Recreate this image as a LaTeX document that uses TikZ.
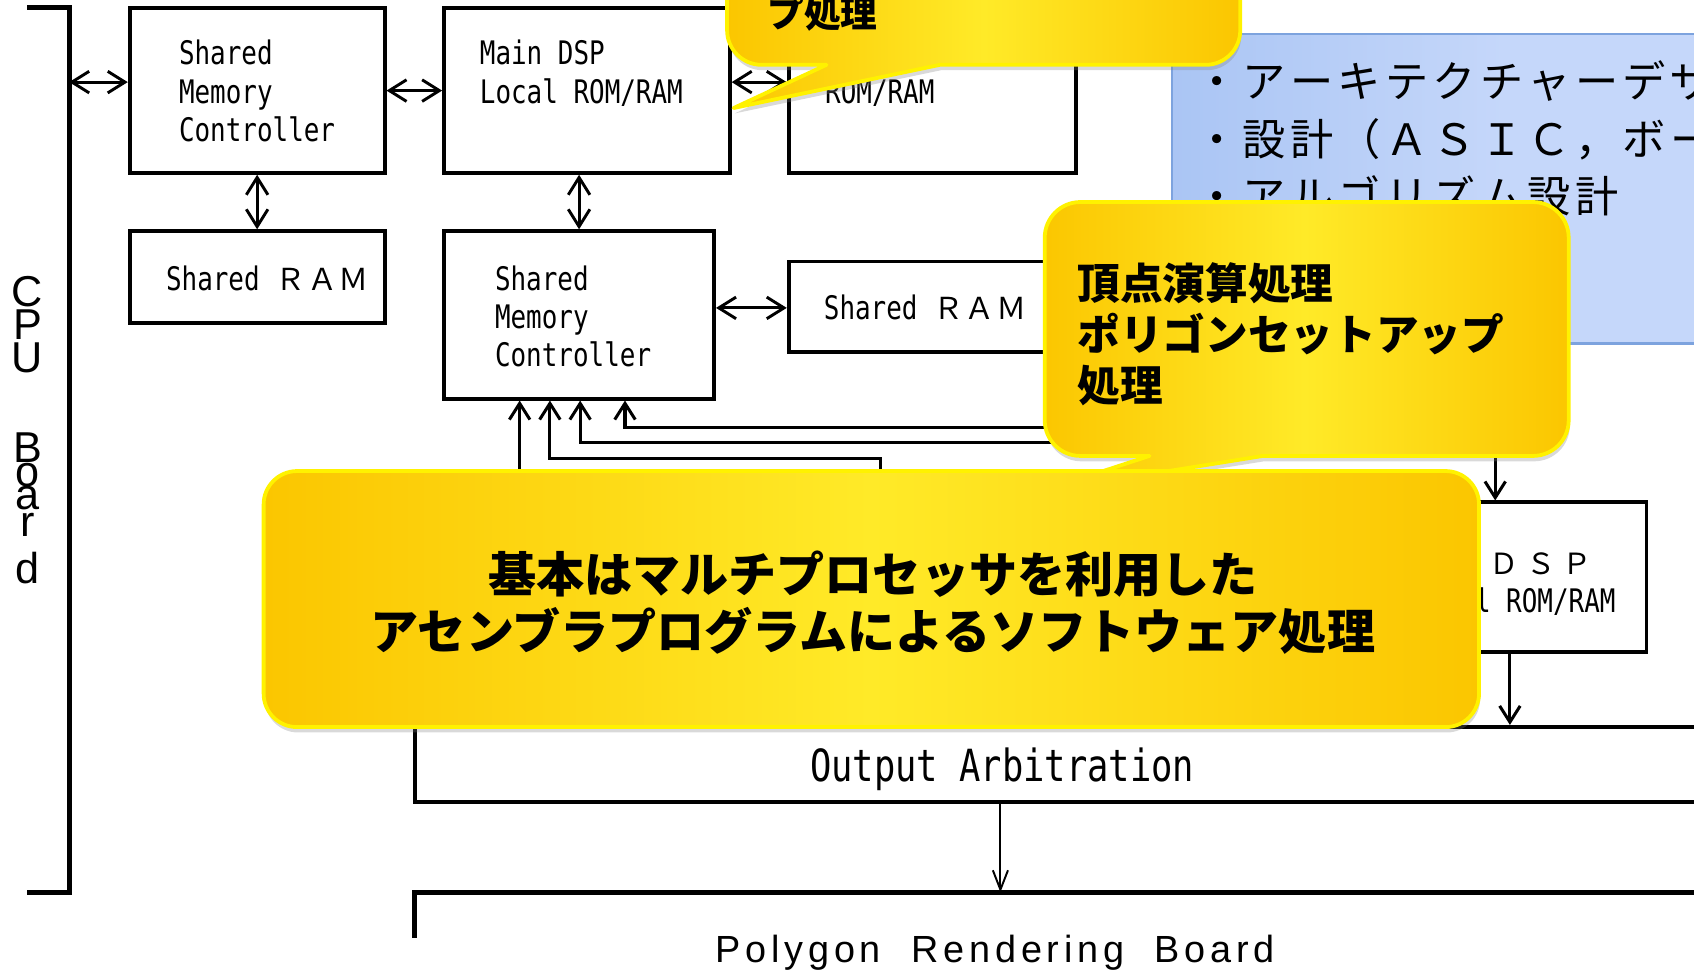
\documentclass[tikz,border=0pt]{standalone}
\usepackage{fontspec}
\usetikzlibrary{arrows.meta,shadows,calc}
\newfontfamily\boxfont[FakeStretch=0.8]{DejaVu Sans Mono}
\newfontfamily\jpfont{Noto Sans CJK JP}
\newfontfamily\latinsans{Liberation Sans}
\newfontfamily\polyfont{Liberation Sans}
\definecolor{cyOuter}{RGB}{251,198,0}
\definecolor{cyInner}{RGB}{255,234,40}
\definecolor{cyBorder}{RGB}{255,242,0}
\definecolor{bluefillA}{RGB}{170,197,244}
\definecolor{bluefillB}{RGB}{197,215,250}
\definecolor{blueBorder}{RGB}{125,163,222}
\def\spcloop#1{\ifx#1\relax\else\makebox[\cpitch][c]{#1}\expandafter\spcloop\fi}
\newcommand\spaced[2]{\def\cpitch{#1}\spcloop#2\relax}
\def\lsploop#1{\ifx#1\relax\else#1\kern4.4pt\expandafter\lsploop\fi}
\newcommand\lsp[1]{\lsploop#1\relax}
\newcommand\ctrline[1]{\hbox to 0pt{\hss#1\hss}}
\newcommand\fwl[1]{{\jpfont\fontsize{28}{30}\selectfont\spaced{28.9pt}{#1}}}
\newcommand\fwlG[1]{{\jpfont\fontsize{27}{30}\selectfont\spaced{34pt}{#1}}}
\begin{document}
\begin{tikzpicture}[x=1pt,y=-1pt,
  blk/.style={draw=black, line width=3.5pt, inner sep=0pt},
  dbl/.style={line width=2.7pt, {Straight Barb[length=16pt,width=20pt]}-{Straight Barb[length=16pt,width=20pt]}},
  uarr/.style={line width=2.8pt, -{Straight Barb[length=15pt,width=19pt]}},
  thinarr/.style={line width=1.8pt, -{Straight Barb[length=18pt,width=14pt]}},
  bracket/.style={line width=4.5pt},
  txt/.style={inner sep=0pt, anchor=base west, font=\boxfont\fontsize{30}{35.5}\selectfont},
  callout/.style={draw=cyBorder, line width=3.5pt, line join=round, left color=cyOuter, right color=cyOuter, middle color=cyInner,
    drop shadow={shadow xshift=1pt, shadow yshift=-5pt, opacity=0.3}},
  bluebox/.style={draw=blueBorder, line width=2pt, left color=bluefillA, right color=bluefillB, middle color=bluefillB},
  jptxt/.style={inner sep=0pt, anchor=base west, font=\jpfont\fontsize{40}{53}\selectfont},
  jpbold/.style={inner sep=0pt, anchor=base west, font=\jpfont\bfseries\fontsize{39.5}{47.5}\selectfont}
]
\useasboundingbox (0,0) rectangle (1568,898);
\clip (0,0) rectangle (1568,898);

% CPU board bracket
\coordinate (cpuT) at (64,7);
\coordinate (cpuB) at (64,826);
\coordinate (cpuTL) at (25,7);
\coordinate (cpuBL) at (25,826);
\draw[bracket] (cpuTL) -- (cpuT) -- (cpuB) -- (cpuBL);
\node[inner sep=0pt, anchor=base, font=\latinsans\fontsize{40}{40}\selectfont] (cpulabel) at (25.5,284)
  {\vtop{\baselineskip=0pt\lineskiplimit=-1000pt\lineskip=0pt
   \ctrline{C}\vskip30pt\ctrline{P}\vskip30.5pt\ctrline{U}\vskip83.5pt\ctrline{B}\vskip22pt\ctrline{o}\vskip22pt\ctrline{a}\vskip25pt\ctrline{r}\vskip43pt\ctrline{d}}};

% boxes
\node[blk, minimum width=236pt, minimum height=152.3pt] (smcA) at (238,83.85) {};
\node[blk, minimum width=236pt, minimum height=85pt] (ramB) at (238,256.5) {};
\node[blk, minimum width=264.5pt, minimum height=152.3pt] (dspC) at (543.25,83.85) {};
\node[blk, minimum width=266pt, minimum height=152.3pt] (dspD) at (863,83.85) {};
\node[blk, minimum width=250pt, minimum height=155pt] (smcE) at (536,291.5) {};
\node[blk, minimum width=266pt, minimum height=83.5pt] (ramF) at (863,283.75) {};
\node[blk, minimum width=234pt, minimum height=138.5pt] (dspG) at (1407,534.25) {};
\node[blk, line width=4pt, minimum width=1236pt, minimum height=69.5pt] (outArb) at (1002,707.75) {};

% box texts
\node[txt] (tA) at (165.5,60) {\vtop{\hbox{Shared}\hbox{Memory}\hbox{Controller}}};
\node[txt] (tB) at (153.5,268.5) {Shared \fwl{ＲＡＭ}};
\node[txt] (tC) at (444,60) {\vtop{\hbox{Main DSP}\hbox{Local ROM/RAM}}};
\node[txt] (tD) at (763.6,96) {ROM/RAM};
\node[txt] (tE) at (458,268.5) {\vtop{\hbox{Shared}\hbox{Memory}\hbox{Controller}}};
\node[txt] (tF) at (762.4,296) {Shared \fwl{ＲＡＭ}};
\node[txt] (tG1) at (1375,532) {\fwlG{ＤＳＰ}};
\node[txt] (tG2) at (1307.3,567) {Local ROM/RAM};
\node[txt, anchor=base, font=\boxfont\fontsize{41}{45}\selectfont] (tOut) at (927.5,723.5) {Output Arbitration};

% connectors
\draw[dbl] (cpuT |- 0,76) -- (smcA.west |- 0,76);
\draw[dbl] (smcA.east) -- (dspC.west);
\draw[dbl] (dspC.east |- 0,76) -- (dspD.west |- 0,76);
\draw[dbl] (smcA.south) -- (ramB.north);
\draw[dbl] (dspC.south -| smcE.north) -- (smcE.north);
\draw[dbl] (smcE.east |- 0,285) -- (ramF.west |- 0,285);

\coordinate (h1) at (481,460);
\coordinate (h2) at (815,460);
\coordinate (h3) at (1010,409.5);
\coordinate (h4) at (1010,396);
\coordinate (h5) at (1384,410);
\draw[uarr] (h1) -- (smcE.south -| h1);
\draw[uarr] (h2) -- (815,424) -- (509,424) -- (smcE.south -| 509,0);
\draw[uarr] (h3) -- (537,409.5) -- (smcE.south -| 537,0);
\draw[uarr] (h4) -- (578.5,396) -- (smcE.south -| 578.5,0);
\draw[uarr] (h5) -- (dspG.north -| h5);
\draw[uarr] (dspG.south -| 1397.6,0) -- (outArb.north -| 1397.6,0);

% polygon rendering board
\coordinate (polyT) at (926,826);
\coordinate (polyL) at (384,826);
\coordinate (polyLB) at (384,868);
\coordinate (polyR) at (1620,826);
\draw[thinarr] (outArb.south -| polyT) -- (polyT);
\draw[bracket] (polyLB) -- (polyL) -- (polyR);
\node[inner sep=0pt, anchor=base, font=\polyfont\fontsize{35}{38}\selectfont] (polylabel) at (923.5,891)
  {\lsp{Polygon}\hspace{24pt}\lsp{Rendering}\hspace{24pt}\lsp{Board}};

% blue box
\path[bluebox] (1085,31.5) rectangle (1700,318);
\node[jptxt] (bluetxt) at (1104,90.5)
  {\vtop{\hbox{\spaced{44pt}{・アーキテクチャーデザ}}\hbox{\spaced{44pt}{・設計（ＡＳＩＣ，ボー}}\hbox{\spaced{44pt}{・アルゴリズム設計}}}};

% callout 1
\path[callout] (705,-100) -- (1116,-100) arc[start angle=270,end angle=360,radius=32]
  -- (1148,28) arc[start angle=0,end angle=90,radius=32]
  -- (870,60) -- (679,100) -- (765,60)
  -- (705,60) arc[start angle=90,end angle=180,radius=32]
  -- (673,-68) arc[start angle=180,end angle=270,radius=32] -- cycle;
\node[jpbold, font=\jpfont\bfseries\fontsize{34}{40}\selectfont] (c1txt) at (710,25) {プ処理};

% callout 2
\path[callout] (1000,187) -- (1419,187) arc[start angle=270,end angle=360,radius=33]
  -- (1452,389) arc[start angle=0,end angle=90,radius=33]
  -- (1169,422) -- (963,455) -- (1064,422)
  -- (1000,422) arc[start angle=90,end angle=180,radius=33]
  -- (967,220) arc[start angle=180,end angle=270,radius=33] -- cycle;
\node[jpbold] (c2txt) at (997,277) {\vtop{\hbox{頂点演算処理}\hbox{ポリゴンセットアップ}\hbox{処理}}};

% big callout
\path[callout, rounded corners=31pt] (244,436) rectangle (1369,673);
\node[inner sep=0pt, anchor=base, font=\jpfont\bfseries\fontsize{44.5}{53}\selectfont] (bigtxt) at (808,548)
  {\vtop{\ctrline{基本はマルチプロセッサを利用した}\ctrline{アセンブラプログラムによるソフトウェア処理}}};
\end{tikzpicture}
\end{document}
